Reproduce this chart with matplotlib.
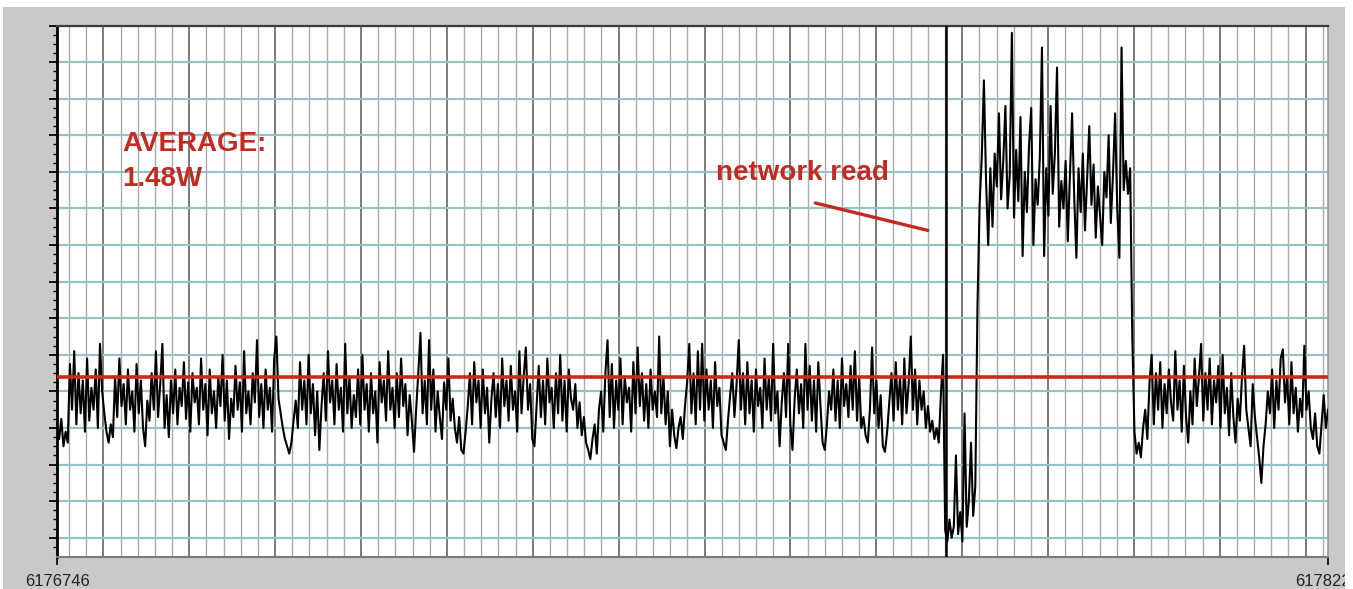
import numpy as np
import matplotlib.pyplot as plt
from matplotlib.patches import Rectangle

plt.rcParams['font.family'] = ['Liberation Sans', 'DejaVu Sans']

# x window of the capture (sample counter)
t_start = 6176746
t_end = 6178226
cursor_t = 6177781      # black cursor line at the start of the read
average_w = 1.48

# power readings (W), left to right
idle_before = [
    1.20, 1.14, 1.25, 1.10, 1.18, 1.12, 1.55, 1.30, 1.62, 1.22, 1.50, 1.28, 1.46, 1.18, 1.58, 1.24, 1.42, 1.30, 1.52, 1.20,
    1.66, 1.40, 1.28, 1.18, 1.12, 1.22, 1.15, 1.48, 1.26, 1.58, 1.32, 1.44, 1.22, 1.52, 1.30, 1.40, 1.18, 1.55, 1.28, 1.46,
    1.20, 1.10, 1.35, 1.24, 1.50, 1.30, 1.62, 1.26, 1.44, 1.66, 1.20, 1.38, 1.15, 1.46, 1.28, 1.52, 1.22, 1.42, 1.32, 1.56,
    1.25, 1.45, 1.18, 1.50, 1.34, 1.42, 1.22, 1.58, 1.30, 1.44, 1.16, 1.52, 1.28, 1.40, 1.20, 1.48, 1.32, 1.60, 1.24, 1.46,
    1.14, 1.36, 1.26, 1.54, 1.30, 1.45, 1.18, 1.62, 1.28, 1.40, 1.22, 1.50, 1.34, 1.68, 1.26, 1.44, 1.20, 1.52, 1.30, 1.42,
    1.18, 1.58, 1.70, 1.36, 1.28, 1.20, 1.14, 1.10, 1.06, 1.12, 1.24, 1.35, 1.20, 1.56, 1.30, 1.46, 1.22, 1.60, 1.28, 1.44,
    1.16, 1.40, 1.08, 1.32, 1.50, 1.24, 1.62, 1.34, 1.46, 1.22, 1.55, 1.30, 1.42, 1.18, 1.66, 1.28, 1.48, 1.20, 1.38, 1.26,
    1.52, 1.22, 1.60, 1.30, 1.44, 1.18, 1.50, 1.28, 1.40, 1.12, 1.56, 1.34, 1.46, 1.24, 1.62, 1.30, 1.42, 1.20, 1.50, 1.26,
    1.58, 1.32, 1.44, 1.16, 1.38, 1.24, 1.07, 1.30, 1.50, 1.72, 1.28, 1.46, 1.22, 1.68, 1.30, 1.52, 1.18, 1.40, 1.26, 1.14,
    1.45, 1.30, 1.58, 1.24, 1.36, 1.20, 1.12, 1.26, 1.08, 1.06, 1.18, 1.32, 1.50, 1.22, 1.56, 1.34, 1.46, 1.20, 1.52, 1.28,
    1.42, 1.12, 1.36, 1.50, 1.26, 1.44, 1.20, 1.58, 1.32, 1.46, 1.24, 1.54, 1.30, 1.40, 1.18, 1.62, 1.28, 1.48, 1.64, 1.30,
    1.44, 1.14, 1.10, 1.32, 1.54, 1.26, 1.46, 1.22, 1.58, 1.34, 1.42, 1.20, 1.50, 1.28, 1.60, 1.24, 1.46, 1.18, 1.52, 1.36,
    1.30, 1.44, 1.20, 1.34, 1.16, 1.26, 1.12, 1.08, 1.03, 1.14, 1.22, 1.06, 1.30, 1.40, 1.18, 1.50, 1.68, 1.26, 1.55, 1.20,
    1.46, 1.30, 1.58, 1.22, 1.48, 1.34, 1.42, 1.18, 1.56, 1.28, 1.64, 1.32, 1.50, 1.24, 1.44, 1.20, 1.52, 1.30, 1.40, 1.26,
    1.70, 1.28, 1.48, 1.22, 1.40, 1.10, 1.30, 1.16, 1.09, 1.20, 1.26, 1.14, 1.32, 1.45, 1.66, 1.28, 1.50, 1.22, 1.62, 1.30,
    1.66, 1.24, 1.52, 1.30, 1.46, 1.20, 1.56, 1.32, 1.42, 1.16, 1.12, 1.08, 1.24, 1.38, 1.50, 1.26, 1.44, 1.68, 1.30, 1.50,
    1.22, 1.56, 1.28, 1.46, 1.18, 1.52, 1.32, 1.42, 1.20, 1.58, 1.30, 1.48, 1.24, 1.66, 1.28, 1.40, 1.10, 1.34, 1.50, 1.26,
    1.66, 1.22, 1.08, 1.36, 1.52, 1.28, 1.44, 1.20, 1.66, 1.30, 1.54, 1.24, 1.46, 1.18, 1.56, 1.32, 1.12, 1.08, 1.22, 1.40,
    1.30, 1.52, 1.24, 1.46, 1.20, 1.58, 1.32, 1.44, 1.26, 1.54, 1.30, 1.62, 1.24, 1.48, 1.20, 1.26, 1.16, 1.12, 1.30, 1.64,
    1.28, 1.46, 1.20, 1.38, 1.10, 1.07, 1.18, 1.34, 1.50, 1.24, 1.56, 1.30, 1.48, 1.22, 1.58, 1.28, 1.44, 1.70, 1.30, 1.52,
    1.22, 1.46, 1.30, 1.40, 1.20, 1.32, 1.18, 1.24, 1.14, 1.20, 1.12, 1.38, 1.60,
]
dip = [0.64, 0.58, 0.70, 0.60, 0.66, 1.05, 0.62, 0.74, 0.58, 1.28, 0.66, 0.80, 1.12, 0.72, 0.88]
read_burst = [
    1.86, 2.42, 2.68, 3.10, 2.55, 2.20, 2.62, 2.30, 2.70, 2.52,
    2.92, 2.45, 2.66, 2.96, 2.40, 2.58, 3.36, 2.35, 2.72, 2.44,
    2.90, 2.14, 2.60, 2.38, 2.75, 2.95, 2.20, 2.56, 2.42, 2.68,
    3.28, 2.14, 2.62, 2.36, 2.96, 2.48, 2.70, 3.17, 2.30, 2.55,
    2.40, 2.66, 2.22, 2.58, 2.92, 2.46, 2.13, 2.62, 2.38, 2.70,
    2.28, 2.56, 2.85, 2.42, 2.64, 2.24, 2.52, 2.36, 2.20, 2.60,
    2.46, 2.80, 2.32, 2.58, 2.92, 2.40, 2.13, 3.28, 2.50, 2.66,
    2.48, 2.62,
]
idle_after = [
    1.70, 1.18, 1.06, 1.12, 1.04, 1.20, 1.30, 1.14, 1.45, 1.60,
    1.22, 1.50, 1.30, 1.56, 1.20, 1.44, 1.28, 1.52, 1.34, 1.24,
    1.62, 1.30, 1.46, 1.18, 1.54, 1.26, 1.12, 1.40, 1.22, 1.58,
    1.32, 1.48, 1.66, 1.24, 1.50, 1.30, 1.58, 1.22, 1.46, 1.34,
    1.54, 1.20, 1.60, 1.28, 1.42, 1.16, 1.50, 1.26, 1.12, 1.36,
    1.24, 1.48, 1.65, 1.30, 1.20, 1.10, 1.44, 1.26, 1.15, 1.04,
    0.90, 1.10, 1.22, 1.40, 1.28, 1.52, 1.20, 1.46, 1.30, 1.58,
    1.63, 1.34, 1.48, 1.22, 1.56, 1.28, 1.42, 1.18, 1.36, 1.26,
    1.65, 1.30, 1.40, 1.20, 1.14, 1.28, 1.10, 1.06, 1.22, 1.38,
    1.20, 1.30,
]

# annotation: "network read" pointer
pointer_t = [6177629, 6177760]
pointer_w = [2.43, 2.28]

power = np.array(idle_before + dip + read_burst + idle_after)
t = np.linspace(t_start, t_end, len(power))

red = '#d3261b'
txt_red = '#c42a20'

W, H = 1353, 589
fig = plt.figure(figsize=(W / 100, H / 100), dpi=100)
fig.patch.set_facecolor('white')
panel = Rectangle((3 / W, 0), 1342 / W, 582 / H, transform=fig.transFigure,
                  facecolor='#c9c9c9', edgecolor='none', zorder=-10)
fig.add_artist(panel)

ax = fig.add_axes([57 / W, 32 / H, 1271 / W, 531.5 / H])
ax.set_zorder(5)
ax.set_facecolor('white')
ax.set_xlim(t_start, t_end)
ax.set_ylim(0.495, 3.4)

# grid
minor_x = [v for v in np.arange(6176760, t_end, 20) if v % 100]
major_x = np.arange(6176800, t_end, 100)
ax.vlines(minor_x, 0.495, 3.4, color='#ababab', lw=1.0, zorder=1)
ax.vlines(major_x, 0.495, 3.4, color='#6f6f6f', lw=1.3, zorder=1)
ax.hlines(np.arange(0.6, 3.41, 0.2), t_start, t_end, color='#96c4c4', lw=1.6, zorder=1)

# trace
ax.plot(t, power, color='black', lw=1.5, zorder=3)
ax.axhline(average_w, color=red, lw=2.6, zorder=4)
ax.axvline(cursor_t, color='black', lw=1.8, zorder=4)
ax.plot(pointer_t, pointer_w, color=txt_red, lw=2.4, solid_capstyle='round', zorder=5)

ax.text(6176822, 2.823, 'AVERAGE:\n1.48W', color=txt_red, fontsize=20, fontweight='bold',
        va='top', ha='left', linespacing=1.45, zorder=6)
ax.text(6177513, 2.555, 'network read', color=txt_red, fontsize=20, fontweight='bold',
        va='baseline', ha='left', zorder=6)

# axes cosmetics
ax.set_yticks(np.arange(0.6, 3.41, 0.2))
ax.set_yticks(np.arange(0.55, 3.41, 0.05), minor=True)
ax.tick_params(axis='y', which='major', length=6, width=1.3, labelleft=False, color='black')
ax.tick_params(axis='y', which='minor', length=3, width=1.0, color='black')
ax.set_xticks([t_start, t_end])
ax.set_xticklabels([str(t_start), str(t_end)])
ax.tick_params(axis='x', length=6, width=1.2, color='black', labelsize=12, labelcolor='#222222', pad=6)
for lab in ax.get_xticklabels():
    lab.set_clip_path(panel)   # right label is cut by the window edge

ax.spines['left'].set_color('black')
ax.spines['left'].set_linewidth(2)
ax.spines['top'].set_color('#3c3c3c')
ax.spines['top'].set_linewidth(1.6)
ax.spines['bottom'].set_color('#7a7a7a')
ax.spines['bottom'].set_linewidth(1.5)
ax.spines['right'].set_color('#9a9a9a')
ax.spines['right'].set_linewidth(1.2)

fig.savefig('out.png', dpi=100, facecolor=fig.get_facecolor())
